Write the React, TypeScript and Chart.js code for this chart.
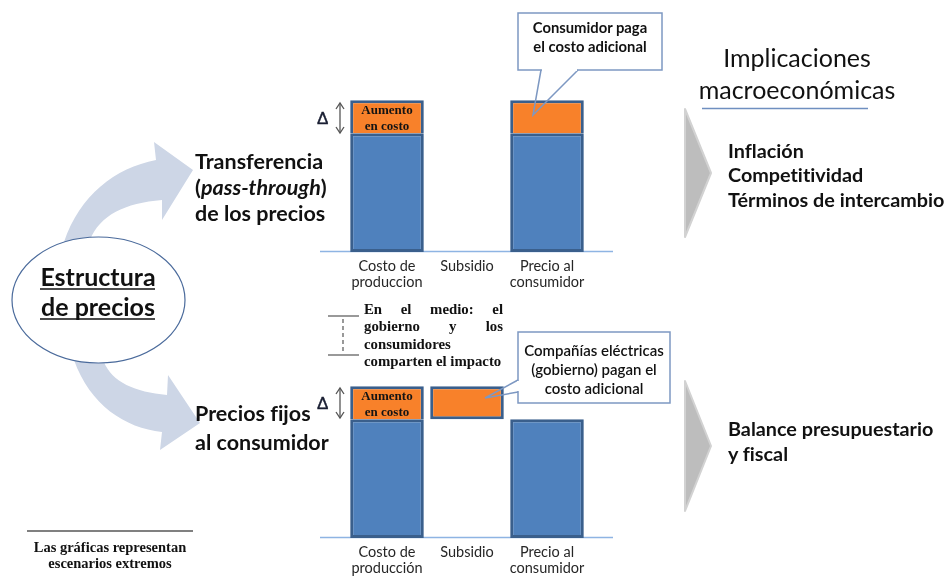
import React, { useEffect, useRef } from 'react';
import { Chart, registerables } from 'chart.js';

Chart.register(...registerables);

// ---------- data ----------
const topCategories = [['Costo de', 'produccion'], 'Subsidio', ['Precio al', 'consumidor']];
const bottomCategories = [['Costo de', 'producción'], 'Subsidio', ['Precio al', 'consumidor']];
const topBaseCost: (number | null)[] = [3.6, null, 3.6];
const topIncrease: ([number, number] | null)[] = [[3.6, 4.6], null, [3.6, 4.6]];
const bottomBaseCost: (number | null)[] = [3.6, null, 3.6];
const bottomIncrease: ([number, number] | null)[] = [[3.6, 4.6], [3.6, 4.6], null];
const increaseLabelLines = ['Aumento', 'en costo'];
const increaseLabelIndex = 0;
const yMax = 5;

// ---------- styles ----------
const BLUE = '#4F81BD';
const BAR_BORDER = '#3A5F8C';
const ORANGE = '#F8812A';
const BASELINE = '#8EB4E3';
const SANS = 'Lato, "Open Sans", "DejaVu Sans", sans-serif';
const SERIF = '"Liberation Serif", "DejaVu Serif", serif';

const baselinePlugin = {
  id: 'baseline',
  beforeDatasetsDraw(chart: any) {
    const { ctx, chartArea } = chart;
    ctx.save();
    ctx.strokeStyle = BASELINE;
    ctx.lineWidth = 1.5;
    ctx.beginPath();
    ctx.moveTo(chartArea.left - 27, chartArea.bottom - 0.5);
    ctx.lineTo(chartArea.right + 26, chartArea.bottom - 0.5);
    ctx.stroke();
    ctx.restore();
  },
};

const increaseLabelPlugin = {
  id: 'increaseLabel',
  afterDatasetsDraw(chart: any) {
    const meta = chart.getDatasetMeta(1);
    const el = meta.data[increaseLabelIndex];
    const raw = chart.data.datasets[1].data[increaseLabelIndex];
    if (!el || raw == null) return;
    const { x, y, base } = el.getProps(['x', 'y', 'base'], true);
    const mid = (y + base) / 2;
    const ctx = chart.ctx;
    ctx.save();
    ctx.font = `bold 13px ${SERIF}`;
    ctx.fillStyle = '#141414';
    ctx.textAlign = 'center';
    ctx.textBaseline = 'middle';
    ctx.fillText(increaseLabelLines[0], x, mid - 6.5);
    ctx.fillText(increaseLabelLines[1], x, mid + 9.5);
    ctx.restore();
  },
};

function BarPanel({ categories, baseCost, increase, top }: any) {
  const ref = useRef<HTMLCanvasElement | null>(null);
  useEffect(() => {
    if (!ref.current) return;
    const chart = new Chart(ref.current, {
      type: 'bar',
      data: {
        labels: categories,
        datasets: [
          {
            label: 'Costo',
            data: baseCost,
            backgroundColor: BLUE,
            borderColor: BAR_BORDER,
            borderWidth: 3,
            borderSkipped: false,
            barPercentage: 0.92,
            categoryPercentage: 1,
          },
          {
            label: 'Aumento en costo',
            data: increase as any,
            backgroundColor: ORANGE,
            borderColor: BAR_BORDER,
            borderWidth: (c: any) =>
              baseCost[c.dataIndex] != null ? { top: 3, left: 3, right: 3, bottom: 0 } : 3,
            borderSkipped: false,
            barPercentage: 0.92,
            categoryPercentage: 1,
          },
        ],
      },
      options: {
        animation: false,
        responsive: false,
        maintainAspectRatio: false,
        layout: { padding: { left: 47, right: 43, top: 0, bottom: 0 } },
        plugins: { legend: { display: false }, tooltip: { enabled: false } },
        scales: {
          x: {
            stacked: true,
            grid: { display: false, drawTicks: false },
            border: { display: false },
            ticks: {
              padding: 7,
              color: '#262626',
              maxRotation: 0,
              autoSkip: false,
              font: { family: SANS, size: 14.5, lineHeight: 1.05 },
            },
            afterFit: (s: any) => {
              s.height = 40;
            },
          },
          y: { stacked: false, display: false, min: 0, max: yMax },
        },
      } as any,
      plugins: [baselinePlugin, increaseLabelPlugin],
    });
    return () => chart.destroy();
  }, []);
  return (
    <canvas
      ref={ref}
      width={330}
      height={205}
      style={{ position: 'absolute', left: 300, top, width: 330, height: 205 }}
    />
  );
}

function DeltaMark({ x, y1, y2 }: any) {
  return (
    <g>
      <text x={x - 23} y={(y1 + y2) / 2 + 6} fontFamily='"Liberation Sans", sans-serif' fontSize={17} fill="#1a1f33" stroke="#1a1f33" strokeWidth={0.4}>Δ</text>
      <g stroke="#555" strokeWidth={1.3} fill="none">
        <line x1={x} y1={y1} x2={x} y2={y2} />
        <polyline points={`${x - 4},${y1 + 6} ${x},${y1} ${x + 4},${y1 + 6}`} />
        <polyline points={`${x - 4},${y2 - 6} ${x},${y2} ${x + 4},${y2 - 6}`} />
      </g>
    </g>
  );
}

export default function App() {
  useEffect(() => {
    document.body.style.margin = '0';
  }, []);
  const bold = { fontFamily: SANS, fontWeight: 700 } as any;
  return (
    <div style={{ position: 'relative', width: 946, height: 576, background: '#fff', overflow: 'hidden' }}>
      <BarPanel categories={topCategories} baseCost={topBaseCost} increase={topIncrease} top={87} />
      <BarPanel categories={bottomCategories} baseCost={bottomBaseCost} increase={bottomIncrease} top={373} />

      <svg width={946} height={576} style={{ position: 'absolute', left: 0, top: 0, pointerEvents: 'none', fontVariantLigatures: 'none' } as any}>
        {/* curved arrows */}
        <path d="M 64,242 C 80,195 115,168 156,160 L 154,142 L 193,170 L 162,220 L 162,200 C 125,203 100,215 90,240 Z" fill="#CDD6E6" />
        <path d="M 74,360 C 90,405 125,428 162,432 L 160,450 L 200,423 L 168,375 L 167,395 C 135,392 112,382 104,362 Z" fill="#CDD6E6" />
        {/* ellipse */}
        <ellipse cx={98.5} cy={300} rx={86.5} ry={63} fill="#fff" stroke="#4A6A9B" strokeWidth={1.2} />
        <text x={98} y={286} textAnchor="middle" fontSize={25} fill="#111" {...bold}>Estructura</text>
        <text x={98} y={316} textAnchor="middle" fontSize={25} fill="#111" {...bold}>de precios</text>
        <line x1={40} y1={289} x2={155} y2={289} stroke="#111" strokeWidth={1.6} />
        <line x1={40} y1={319} x2={155} y2={319} stroke="#111" strokeWidth={1.6} />

        {/* left labels */}
        <text x={195} y={169} fontSize={21.5} fill="#111" {...bold}>Transferencia</text>
        <text x={195} y={195} fontSize={21.5} fill="#111" {...bold}>(<tspan fontStyle="italic">pass-through</tspan>)</text>
        <text x={195} y={221} fontSize={21.5} fill="#111" {...bold}>de los precios</text>
        <text x={195} y={421} fontSize={21.5} fill="#111" {...bold}>Precios fijos</text>
        <text x={195} y={450} fontSize={21.5} fill="#111" {...bold}>al consumidor</text>

        {/* delta marks */}
        <DeltaMark x={340} y1={103} y2={133} />
        <DeltaMark x={340} y1={388} y2={418} />

        {/* dashed bracket */}
        <g stroke="#555" strokeWidth={1.2}>
          <line x1={328} y1={316} x2={359} y2={316} />
          <line x1={328} y1={355} x2={359} y2={355} />
          <line x1={343} y1={319} x2={343} y2={352} strokeDasharray="4 3" />
        </g>

        {/* callout 1 */}
        <rect x={518} y={13} width={144} height={57} fill="#fff" stroke="#7D98C2" strokeWidth={1.5} />
        <polyline points="541,70 533,115 578,70" fill="none" stroke="#7D98C2" strokeWidth={1.5} />
        <line x1={542} y1={70} x2={577} y2={70} stroke="#fff" strokeWidth={2} />
        <text x={590} y={33} textAnchor="middle" fontSize={14.8} fill="#111" {...bold}>Consumidor paga</text>
        <text x={590} y={52} textAnchor="middle" fontSize={14.8} fill="#111" {...bold}>el costo adicional</text>

        {/* callout 2 */}
        <rect x={518} y={332} width={152} height={71} fill="#fff" stroke="#7D98C2" strokeWidth={1.5} />
        <polyline points="518,380 485,398 518,392" fill="none" stroke="#7D98C2" strokeWidth={1.5} />
        <line x1={518} y1={381} x2={518} y2={391} stroke="#fff" strokeWidth={2} />
        <text x={594} y={356} textAnchor="middle" fontSize={15} fill="#111" fontFamily={SANS} fontWeight={600}>Compañías eléctricas</text>
        <text x={594} y={375} textAnchor="middle" fontSize={15} fill="#111" fontFamily={SANS} fontWeight={600}>(gobierno) pagan el</text>
        <text x={594} y={394} textAnchor="middle" fontSize={15} fill="#111" fontFamily={SANS} fontWeight={600}>costo adicional</text>

        {/* right side */}
        <text x={797} y={67} textAnchor="middle" fontSize={25} fill="#111" fontFamily={SANS}>Implicaciones</text>
        <text x={797} y={99} textAnchor="middle" fontSize={25} fill="#111" fontFamily={SANS}>macroeconómicas</text>
        <line x1={702} y1={108.5} x2={868} y2={108.5} stroke="#6F8FC0" strokeWidth={1.5} />
        <polygon points="685,109 711,173 685,237" fill="#BDBDBD" stroke="#D2D2D2" strokeWidth={2} strokeLinejoin="round" />
        <polygon points="685,381 711,446 685,511" fill="#BDBDBD" stroke="#D2D2D2" strokeWidth={2} strokeLinejoin="round" />
        <text x={728} y={158} fontSize={19.8} fill="#111" {...bold}>Inflación</text>
        <text x={728} y={182} fontSize={19.8} fill="#111" {...bold}>Competitividad</text>
        <text x={728} y={207} fontSize={19.8} fill="#111" {...bold}>Términos de intercambio</text>
        <text x={728} y={436} fontSize={19.8} fill="#111" {...bold}>Balance presupuestario</text>
        <text x={728} y={461} fontSize={19.8} fill="#111" {...bold}>y fiscal</text>

        {/* footnote */}
        <line x1={27} y1={531} x2={193} y2={531} stroke="#808080" strokeWidth={2} />
        <text x={110} y={552} textAnchor="middle" fontSize={14.5} fill="#111" fontFamily={SERIF} fontWeight={700}>Las gráficas representan</text>
        <text x={110} y={568} textAnchor="middle" fontSize={14.5} fill="#111" fontFamily={SERIF} fontWeight={700}>escenarios extremos</text>
      </svg>

      {/* justified note */}
      <div
        style={{
          position: 'absolute',
          left: 364,
          top: 301,
          width: 139,
          fontFamily: SERIF,
          fontWeight: 700,
          fontSize: 14.8,
          lineHeight: '17.3px',
          color: '#111',
          whiteSpace: 'nowrap',
        }}
      >
        <div style={{ textAlign: 'justify', textAlignLast: 'justify', whiteSpace: 'normal' } as any}>En el medio: el</div>
        <div style={{ textAlign: 'justify', textAlignLast: 'justify', whiteSpace: 'normal' } as any}>gobierno y los</div>
        <div>consumidores</div>
        <div>comparten el impacto</div>
      </div>
    </div>
  );
}
